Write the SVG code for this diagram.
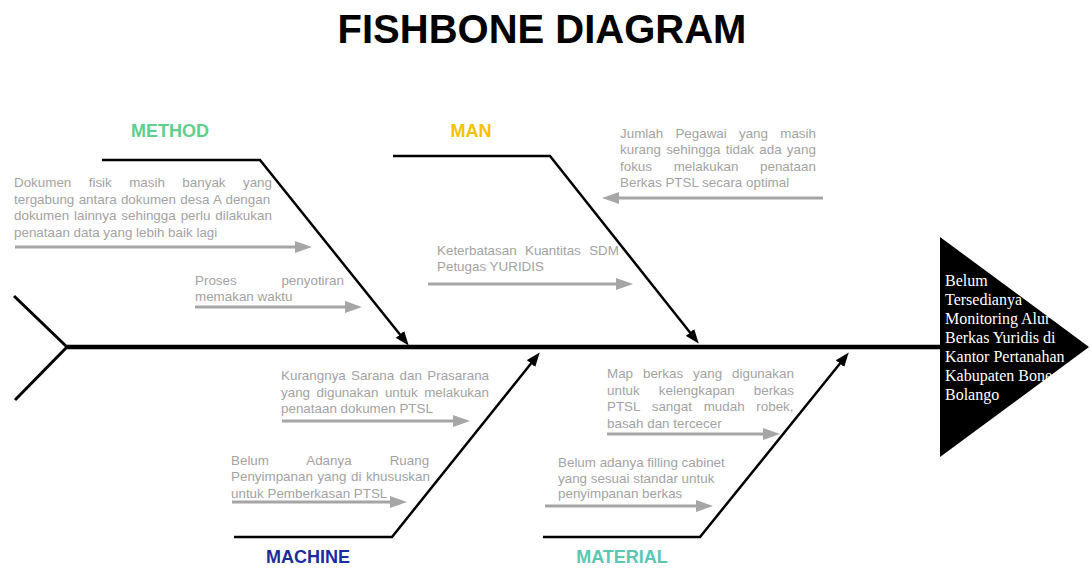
<svg xmlns="http://www.w3.org/2000/svg" width="1091" height="569" viewBox="0 0 1091 569">
<style>
.t{font-family:"Liberation Sans",Arial,sans-serif;font-size:13.4px;fill:#a3a3a3}
.bone{stroke:#000;stroke-width:2.5;fill:none}
.bn{stroke:#000;stroke-width:2.5;fill:none;marker-end:url(#ba)}
.ga{stroke:#a6a6a6;stroke-width:3;fill:none;marker-end:url(#ga)}
.cat{font-family:"Liberation Sans",Arial,sans-serif;font-weight:bold;font-size:18px;text-anchor:middle}
.head{font-family:"Liberation Serif","Times New Roman",serif;font-size:16px;fill:#fff}
</style>
<defs>
<marker id="ba" markerUnits="userSpaceOnUse" markerWidth="14" markerHeight="12" refX="3" refY="5" orient="auto" viewBox="0 0 13 10">
<path d="M0,0 L13,5 L0,10 z" fill="#000"/>
</marker>
<marker id="ga" markerUnits="userSpaceOnUse" markerWidth="18" markerHeight="12" refX="3" refY="6" orient="auto" viewBox="0 0 17 12">
<path d="M0,0 L17,6 L0,12 z" fill="#a6a6a6"/>
</marker>
</defs>
<rect width="1091" height="569" fill="#fff"/>
<text x="542" y="43" font-family="Liberation Sans,Arial,sans-serif" font-weight="bold" font-size="40" text-anchor="middle" fill="#000">FISHBONE DIAGRAM</text>

<g id="spine">
<line x1="67" y1="347" x2="942" y2="347" stroke="#000" stroke-width="4.5"/>
<line x1="14" y1="296" x2="67" y2="347" stroke="#000" stroke-width="3"/>
<line x1="67" y1="347" x2="15" y2="400" stroke="#000" stroke-width="3"/>
</g>

<g id="head">
<polygon points="940,237 1089,347 940,457" fill="#000"/>
<text class="head" x="945"><tspan x="945" y="286">Belum</tspan><tspan x="945" y="305">Tersedianya</tspan><tspan x="945" y="324">Monitoring Alur</tspan><tspan x="945" y="343">Berkas Yuridis di</tspan><tspan x="945" y="362">Kantor Pertanahan</tspan><tspan x="945" y="381">Kabupaten Bone</tspan><tspan x="945" y="400">Bolango</tspan></text>
</g>

<g id="connectors">
<polyline class="bn" points="102,160 260,160 402,337"/>
<polyline class="bn" points="393,156 550,156 692,335"/>
<polyline class="bn" points="234,537 392,537 533,361"/>
<polyline class="bn" points="543,537 700,537 842,361"/>
<line class="ga" x1="15" y1="247" x2="298" y2="247"/>
<line class="ga" x1="195" y1="307" x2="348" y2="307"/>
<line class="ga" x1="823" y1="198" x2="616" y2="198"/>
<line class="ga" x1="428" y1="284" x2="619" y2="284"/>
<line class="ga" x1="282" y1="421" x2="456" y2="421"/>
<line class="ga" x1="232" y1="502" x2="393" y2="502"/>
<line class="ga" x1="607" y1="434" x2="766" y2="434"/>
<line class="ga" x1="545" y1="506" x2="699" y2="506"/>
</g>

<g id="method">
<text class="cat" x="170" y="137" fill="#5fcf8c">METHOD</text>
<text class="t"><tspan x="14" y="187" word-spacing="13.7">Dokumen fisik masih banyak yang</tspan><tspan x="14" y="203.5" word-spacing="0.6">tergabung antara dokumen desa A dengan</tspan><tspan x="14" y="220" word-spacing="1.2">dokumen lainnya sehingga perlu dilakukan</tspan><tspan x="14" y="236.5">penataan data yang lebih baik lagi</tspan></text>
<text class="t"><tspan x="195" y="285" word-spacing="41">Proses penyotiran</tspan><tspan x="195" y="300.5">memakan waktu</tspan></text>
</g>

<g id="man">
<text class="cat" x="471" y="137" fill="#f2c200">MAN</text>
<text class="t"><tspan x="620" y="137.5" word-spacing="8.5">Jumlah Pegawai yang masih</tspan><tspan x="620" y="154" word-spacing="1.5">kurang sehingga tidak ada yang</tspan><tspan x="620" y="170.5" word-spacing="17.9">fokus melakukan penataan</tspan><tspan x="620" y="187">Berkas PTSL secara optimal</tspan></text>
<text class="t"><tspan x="437" y="255" word-spacing="4.6">Keterbatasan Kuantitas SDM</tspan><tspan x="437" y="271">Petugas YURIDIS</tspan></text>
</g>

<g id="machine">
<text class="cat" x="308" y="563" fill="#1c2c9e">MACHINE</text>
<text class="t"><tspan x="281" y="380" word-spacing="1.6">Kurangnya Sarana dan Prasarana</tspan><tspan x="281" y="396.5" word-spacing="2.8">yang digunakan untuk melakukan</tspan><tspan x="281" y="413">penataan dokumen PTSL</tspan></text>
<text class="t"><tspan x="231" y="464.5" word-spacing="34.3">Belum Adanya Ruang</tspan><tspan x="231" y="481" word-spacing="0.8">Penyimpanan yang di khususkan</tspan><tspan x="231" y="497.5">untuk Pemberkasan PTSL</tspan></text>
</g>

<g id="material">
<text class="cat" x="622" y="563" fill="#5cc6b2">MATERIAL</text>
<text class="t"><tspan x="607" y="378" word-spacing="6.2">Map berkas yang digunakan</tspan><tspan x="607" y="394.5" word-spacing="15.3">untuk kelengkapan berkas</tspan><tspan x="607" y="411" word-spacing="8">PTSL sangat mudah robek,</tspan><tspan x="607" y="427.5">basah dan tercecer</tspan></text>
<text class="t"><tspan x="558" y="466.5">Belum adanya filling cabinet</tspan><tspan x="558" y="482.5">yang sesuai standar untuk</tspan><tspan x="558" y="498">penyimpanan berkas</tspan></text>
</g>
</svg>
